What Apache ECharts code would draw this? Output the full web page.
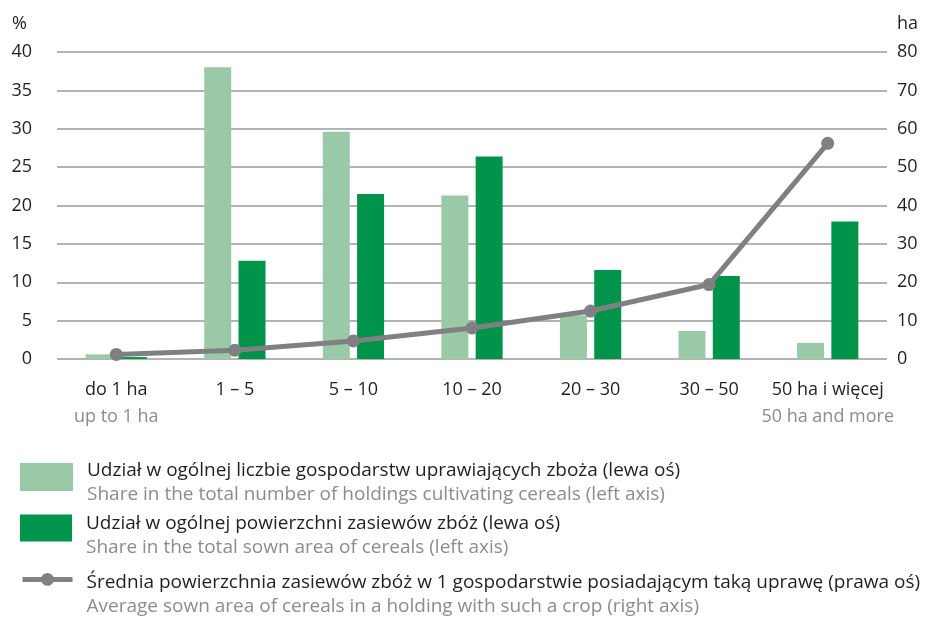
<!DOCTYPE html>
<html>
<head>
<meta charset="utf-8">
<script src="https://cdn.jsdelivr.net/npm/echarts@6/dist/echarts.min.js"></script>
<style>
  html, body { margin: 0; padding: 0; background: #fff; }
  #chart { width: 932px; height: 617px; }
</style>
</head>
<body>
<div id="chart"></div>
<script>
// categories (PL / EN)
const categories = ["do 1 ha", "1 – 5", "5 – 10", "10 – 20", "20 – 30", "30 – 50", "50 ha i więcej"];
const categoriesEn = ["up to 1 ha", "", "", "", "", "", "50 ha and more"];

// % (left axis)
const shareHoldings = [0.6, 38.0, 29.6, 21.3, 5.7, 3.65, 2.1];
const shareArea = [0.25, 12.8, 21.5, 26.4, 11.6, 10.8, 17.9];
// ha (right axis)
const avgArea = [1.2, 2.3, 4.7, 8.1, 12.5, 19.4, 56.2];

const names = [
  ["Udział w ogólnej liczbie gospodarstw uprawiających zboża (lewa oś)", "Share in the total number of holdings cultivating cereals (left axis)"],
  ["Udział w ogólnej powierzchni zasiewów zbóż (lewa oś)", "Share in the total sown area of cereals (left axis)"],
  ["Średnia powierzchnia zasiewów zbóż w 1 gospodarstwie posiadającym taką uprawę (prawa oś)", "Average sown area of cereals in a holding with such a crop (right axis)"]
];

const FONT = "Open Sans";
const DARK = "#231f20";
const GREY = "#8c8c8c";

const legendRich = {
  a: { fontFamily: FONT, fontSize: 19, color: DARK, lineHeight: 24 },
  b: { fontFamily: FONT, fontSize: 19, color: GREY, lineHeight: 24 }
};

function legendFor(idx, top, w, h, icon, padTop) {
  return {
    orient: "vertical",
    left: 20,
    top: top,
    padding: 0,
    itemWidth: w,
    itemHeight: h,
    icon: icon,
    selectedMode: false,
    data: [names[idx][0]],
    lineStyle: { width: 5 },
    formatter: function () {
      return "{a|" + names[idx][0] + "}\n{b|" + names[idx][1] + "}";
    },
    textStyle: { rich: legendRich, padding: [padTop, 0, 0, 9] }
  };
}

const chart = echarts.init(document.getElementById("chart"));
chart.setOption({
  animation: false,
  grid: { left: 57, right: 45, top: 52, bottom: 258 },
  legend: [
    legendFor(0, 461, 53, 28, "rect", 11),
    legendFor(1, 514, 52, 27, "rect", 15),
    legendFor(2, 573, 50, 16, undefined, 31)
  ],
  xAxis: {
    type: "category",
    data: categories,
    axisLine: { show: false },
    axisTick: { show: false },
    axisLabel: {
      margin: 17,
      interval: 0,
      formatter: function (v, i) {
        return categoriesEn[i] ? v + "\n{sub|" + categoriesEn[i] + "}" : v;
      },
      fontFamily: FONT,
      fontSize: 18,
      color: DARK,
      lineHeight: 27,
      rich: { sub: { fontFamily: FONT, fontSize: 18, color: GREY, lineHeight: 27 } }
    }
  },
  yAxis: [
    {
      type: "value",
      min: 0, max: 40, interval: 5,
      name: "%",
      nameLocation: "end",
      nameGap: 28,
      nameTextStyle: { fontFamily: FONT, fontSize: 18, color: DARK, align: "right", verticalAlign: "middle", padding: [0, 30, 0, 0] },
      axisLine: { show: false },
      axisTick: { show: false },
      axisLabel: { margin: 25, fontFamily: FONT, fontSize: 18, color: DARK },
      splitLine: { lineStyle: { color: "#9a9a9a", width: 1.5 } }
    },
    {
      type: "value",
      min: 0, max: 80, interval: 10,
      name: "ha",
      nameLocation: "end",
      nameGap: 28,
      nameTextStyle: { fontFamily: FONT, fontSize: 18, color: DARK, align: "left", verticalAlign: "middle", padding: [0, 0, 0, 10] },
      axisLine: { show: false },
      axisTick: { show: false },
      axisLabel: { margin: 10, fontFamily: FONT, fontSize: 18, color: DARK },
      splitLine: { show: false }
    }
  ],
  series: [
    {
      name: names[0][0],
      type: "bar",
      yAxisIndex: 0,
      barWidth: 27,
      barGap: "27%",
      itemStyle: { color: "#9ac9a8" },
      data: shareHoldings
    },
    {
      name: names[1][0],
      type: "bar",
      yAxisIndex: 0,
      barWidth: 27,
      barGap: "27%",
      itemStyle: { color: "#00944a" },
      data: shareArea
    },
    {
      name: names[2][0],
      type: "line",
      yAxisIndex: 1,
      symbol: "circle",
      symbolSize: 13,
      lineStyle: { color: "#808082", width: 5 },
      itemStyle: { color: "#808082" },
      data: avgArea
    }
  ]
});
</script>
</body>
</html>
